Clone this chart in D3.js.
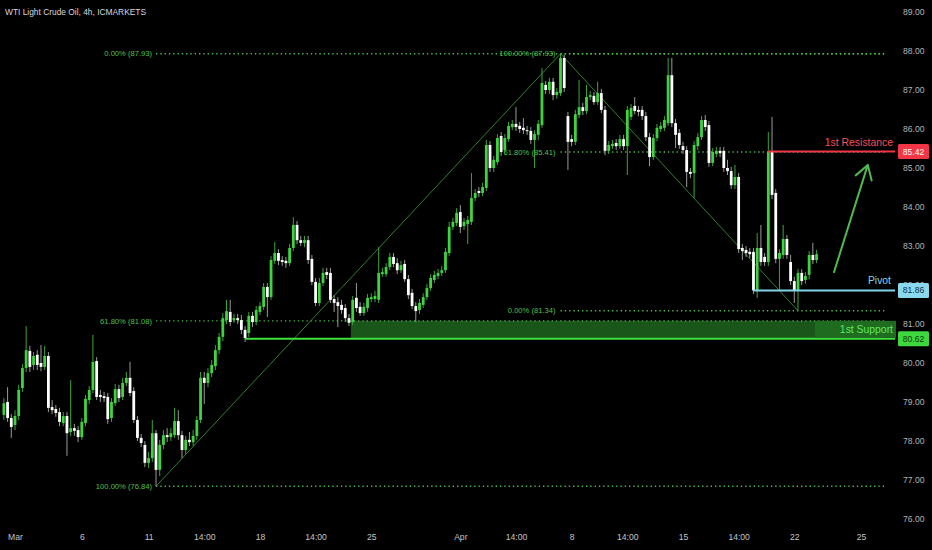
<!DOCTYPE html>
<html><head><meta charset="utf-8">
<script src="https://cdn.jsdelivr.net/npm/d3@7"></script>
<style>
html,body{margin:0;padding:0;background:#000;overflow:hidden;}
svg{display:block;}
</style></head>
<body>
<svg id="chart" width="932" height="550"></svg>
<script>
const title = "WTI Light Crude Oil, 4h, ICMARKETS";

const opens = [
78.67,79.00,78.59,78.41,78.64,79.36,79.87,80.31,79.95,80.21,
80.00,79.90,80.18,78.87,78.82,78.74,78.46,78.64,78.23,78.33,
78.28,78.10,78.46,79.05,79.31,80.05,79.18,79.15,79.13,78.59,
78.97,79.33,79.13,79.49,79.62,79.28,78.54,78.08,77.90,77.44,
77.56,78.20,77.26,77.90,78.15,78.10,78.15,78.51,78.15,77.77,
78.03,77.97,78.13,78.54,79.62,79.49,79.74,79.92,80.33,80.67,
81.10,81.31,81.10,81.15,81.10,80.85,80.77,81.21,81.05,81.31,
81.44,81.95,81.69,82.62,82.82,82.64,82.62,82.56,82.95,83.54,
83.15,83.08,83.15,82.67,82.08,81.54,82.05,82.33,82.31,81.64,
81.56,81.49,81.41,81.15,81.05,81.67,81.44,81.28,81.41,81.64,
81.64,81.62,82.28,82.28,82.46,82.72,82.56,82.38,82.54,82.15,
81.80,81.46,81.36,81.49,81.69,81.92,82.13,82.23,82.31,82.38,
82.82,83.49,83.59,83.87,83.51,83.56,83.62,84.23,84.41,84.36,
84.49,85.59,85.00,85.15,85.82,85.46,85.74,86.05,86.13,86.08,
86.03,85.97,85.95,85.72,85.85,86.10,87.13,87.00,87.21,86.87,
86.92,87.82,86.33,85.74,85.67,86.36,86.56,86.46,86.82,86.85,
86.69,86.92,86.49,85.44,85.56,85.64,85.56,85.74,85.56,86.31,
86.59,86.49,86.49,86.33,85.79,85.28,85.77,86.00,86.03,86.15,
87.38,86.15,85.90,85.56,85.46,84.90,84.87,85.56,85.79,86.23,
86.10,85.13,85.36,85.44,85.44,85.00,84.92,84.56,84.77,82.95,
82.90,82.85,82.85,81.86,82.95,82.72,82.59,85.41,84.36,82.67,
82.77,83.18,82.59,82.10,81.87,82.31,82.13,82.26,82.77,82.64];

const highs = [
79.10,79.38,78.69,78.79,79.44,79.97,80.95,80.44,80.28,80.33,
80.46,80.44,80.28,79.05,78.92,78.85,78.74,78.74,79.56,78.44,
78.38,78.59,79.18,79.41,80.72,80.15,79.31,79.26,79.23,79.10,
79.46,79.44,79.62,79.77,80.03,79.38,78.64,78.18,78.00,77.72,
78.54,78.28,78.03,78.28,78.33,78.33,78.85,78.79,78.26,78.13,
78.23,78.28,78.64,79.77,79.77,79.87,80.08,80.46,80.77,81.28,
81.62,81.62,81.26,81.26,81.23,80.95,81.31,81.31,81.46,81.56,
82.05,82.05,82.74,83.10,82.92,82.74,82.72,83.05,83.74,83.64,
83.26,83.26,83.26,82.77,82.18,82.18,82.44,82.44,82.44,81.74,
81.69,81.62,81.51,81.26,81.72,82.05,81.56,81.54,81.77,81.79,
81.85,82.97,82.44,82.56,82.82,82.82,82.69,82.62,82.64,82.26,
81.90,81.56,81.64,81.79,82.03,82.28,82.36,82.41,82.49,82.95,
83.62,83.72,83.97,84.05,83.72,83.77,84.87,84.46,84.51,84.62,
85.72,85.69,85.31,85.87,85.92,85.87,86.18,86.23,86.56,86.18,
86.28,86.08,86.05,85.97,86.23,87.56,87.23,87.31,87.31,87.05,
87.93,87.90,86.44,85.85,86.49,87.26,86.67,87.13,86.97,86.95,
87.21,87.03,86.59,85.69,85.72,85.74,85.85,85.85,86.59,86.64,
86.82,86.59,86.59,86.44,85.90,85.87,86.13,86.18,86.33,87.82,
87.82,86.26,86.00,85.67,85.56,85.00,85.69,85.90,86.33,86.36,
86.21,85.51,85.54,85.54,85.54,85.21,85.03,85.08,84.87,83.05,
83.00,82.95,82.95,83.33,83.54,82.82,85.92,86.31,84.46,82.92,
83.54,83.28,82.77,82.21,82.41,82.41,82.33,82.87,83.08,82.90];

const lows = [
78.54,78.49,78.08,78.28,78.54,79.26,79.77,79.77,79.82,79.82,
79.79,79.82,78.74,78.69,78.62,78.38,78.38,77.62,78.13,78.13,
77.97,78.03,78.38,78.95,79.23,79.05,79.00,79.00,78.44,78.49,
78.90,79.00,79.05,79.41,79.15,78.46,78.00,77.85,77.33,77.31,
77.46,76.84,77.10,77.79,77.97,78.00,78.08,78.03,77.56,77.67,
77.87,77.87,78.03,78.46,78.95,79.38,79.64,79.82,80.23,80.56,
81.00,80.95,81.03,81.00,80.74,80.54,80.67,80.92,80.97,81.23,
81.36,81.18,81.62,82.54,82.51,82.49,82.44,82.49,82.87,83.05,
83.00,82.97,82.54,82.00,81.46,81.46,81.97,82.15,81.54,81.31,
80.92,81.26,81.05,80.95,80.97,81.31,81.21,81.21,81.31,81.56,
81.56,81.54,82.21,82.21,82.38,82.46,82.28,82.31,82.08,81.64,
81.38,81.05,81.26,81.41,81.62,81.85,82.05,82.15,82.23,82.31,
82.74,83.41,83.51,83.33,83.41,83.05,83.54,84.15,84.26,84.28,
84.41,84.90,84.90,85.08,85.31,85.36,85.67,85.97,85.95,85.90,
85.87,85.85,85.62,85.00,85.72,86.03,86.90,86.90,86.74,86.77,
86.85,86.95,84.95,85.56,85.59,86.28,86.36,86.38,86.74,86.62,
86.62,86.41,85.33,85.36,85.49,85.46,85.49,85.46,84.82,86.23,
86.38,86.33,86.23,85.69,85.05,85.21,85.69,85.92,85.95,86.08,
86.05,85.51,85.49,85.36,84.51,84.74,84.23,85.46,85.72,85.95,
85.03,85.05,85.28,85.28,84.90,84.82,84.46,84.46,82.82,82.64,
82.72,82.69,81.77,81.67,82.49,82.49,82.49,84.20,82.56,81.87,
82.67,82.67,82.00,81.54,81.34,82.00,82.03,82.15,82.54,82.56];

const closes = [
78.97,78.59,78.36,78.64,79.31,79.87,80.33,79.90,80.18,79.95,
79.90,80.18,78.85,78.79,78.72,78.49,78.64,78.20,78.33,78.26,
78.10,78.49,79.08,79.31,80.03,79.13,79.13,79.10,78.56,79.00,
79.33,79.10,79.49,79.62,79.23,78.54,78.08,77.95,77.44,77.56,
78.20,77.26,77.90,78.15,78.10,78.20,78.51,78.15,77.77,78.03,
77.97,78.13,78.54,79.62,79.49,79.74,79.95,80.33,80.67,81.15,
81.33,81.05,81.15,81.10,80.85,80.64,81.21,81.05,81.36,81.46,
81.95,81.69,82.64,82.82,82.62,82.59,82.56,82.95,83.54,83.15,
83.08,83.15,82.64,82.08,81.54,82.05,82.31,82.26,81.62,81.54,
81.46,81.36,81.15,81.03,81.62,81.41,81.28,81.44,81.67,81.69,
81.72,82.31,82.33,82.46,82.72,82.54,82.38,82.51,82.15,81.74,
81.46,81.33,81.54,81.69,81.92,82.18,82.26,82.31,82.38,82.85,
83.49,83.62,83.85,83.49,83.62,83.67,84.23,84.36,84.36,84.51,
85.59,85.00,85.21,85.77,85.41,85.77,86.08,86.13,86.05,86.00,
85.97,85.95,85.72,85.87,86.13,87.18,87.00,87.21,86.87,86.95,
87.82,87.05,85.67,85.67,86.38,86.56,86.46,86.82,86.87,86.69,
86.92,86.49,85.44,85.59,85.62,85.56,85.74,85.56,86.49,86.54,
86.46,86.44,86.33,85.79,85.28,85.77,86.03,86.08,86.23,87.38,
86.15,85.85,85.59,85.46,84.90,84.85,85.59,85.79,86.23,86.05,
85.13,85.41,85.44,85.38,85.00,84.92,84.56,84.77,82.92,82.87,
82.82,82.79,81.86,82.95,82.59,82.59,85.41,84.31,82.67,82.82,
83.18,82.77,82.10,81.87,82.31,82.10,82.23,82.77,82.64,82.79];

// x-axis: bar index of each date label
const xTickIndex  = [3, 21, 39, 54, 69, 84, 99, 123, 138, 153, 168, 183, 198, 213, 231];
const xTickLabels = ["Mar","6","11","14:00","18","14:00","25","Apr","14:00","8","14:00","15","14:00","22","25"];
const yTicks = [76,77,78,79,80,81,82,83,84,85,86,87,88,89];

// Fibonacci retracement 1 (low -> high)
const fib1Anchor = [41, 150];
const fib1Pcts   = ["0.00%", "61.80%", "100.00%"];
const fib1Values = [87.93, 81.08, 76.84];
// Fibonacci retracement 2 (high -> low)
const fib2Anchor = [150, 214];
const fib2Pcts   = ["100.00%", "61.80%", "0.00%"];
const fib2Values = [87.93, 85.41, 81.34];

// Levels
const levelNames  = ["1st Resistance", "Pivot", "1st Support"];
const levelValues = [85.42, 81.86, 80.62];
const levelStart  = [206, 202, 65];
const supportZone = [80.62, 81.08];
const supportZoneStart = 93.5;
// projected arrow (bar index, price)
const arrowFrom = [223.7, 82.33];
const arrowTo   = [232.8, 85.08];

const W = 932, H = 550;
const plotRight = 885;
const svg = d3.select("#chart");
svg.append("rect").attr("width", W).attr("height", H).attr("fill", "#000");

const x = d3.scaleLinear().domain([0, 231]).range([3.87, 861.1]);
const y = d3.scaleLinear().domain([76, 89]).range([519, 12]);

const FONT = "'Liberation Sans',Arial,sans-serif";

// title
svg.append("text").attr("x", 5).attr("y", 15)
  .attr("fill", "#d6d8de").attr("font-family", FONT).attr("font-size", 8.4)
  .text(title);

// support zone
svg.append("rect")
  .attr("x", x(supportZoneStart)).attr("width", plotRight - x(supportZoneStart))
  .attr("y", y(supportZone[1])).attr("height", y(supportZone[0]) - y(supportZone[1]))
  .attr("fill", "#1a561a");

// fib lines
const fibColor = "#4cc04c";
function drawFib(anchor, pcts, values, labelRight) {
  const g = svg.append("g");
  values.forEach((v, i) => {
    g.append("line")
      .attr("x1", x(anchor[0])).attr("x2", plotRight)
      .attr("y1", y(v)).attr("y2", y(v))
      .attr("stroke", fibColor).attr("stroke-width", 1.3)
      .attr("stroke-dasharray", "1.3,3");
    g.append("text")
      .attr("x", labelRight).attr("y", y(v)).attr("dy", "0.35em")
      .attr("text-anchor", "end").attr("fill", fibColor)
      .attr("font-family", FONT).attr("font-size", 7.6)
      .text(`${pcts[i]} (${v.toFixed(2)})`);
  });
}
drawFib(fib1Anchor, fib1Pcts, fib1Values, x(fib1Anchor[0]) - 4);
drawFib(fib2Anchor, fib2Pcts, fib2Values, x(fib2Anchor[0]) - 5);

// fib diagonals
svg.append("line")
  .attr("x1", x(fib1Anchor[0])).attr("y1", y(fib1Values[2]))
  .attr("x2", x(fib1Anchor[1])).attr("y2", y(fib1Values[0]))
  .attr("stroke", "#2f7f2f").attr("stroke-width", 1);
svg.append("line")
  .attr("x1", x(fib2Anchor[0])).attr("y1", y(fib2Values[0]))
  .attr("x2", x(fib2Anchor[1])).attr("y2", y(fib2Values[2]))
  .attr("stroke", "#2f7f2f").attr("stroke-width", 1);

// candles
const bars = opens.map((o, i) => ({i, o, h: highs[i], l: lows[i], c: closes[i]}));
const cg = svg.append("g");
const bodyW = 2.8;
cg.selectAll("line.wick").data(bars).join("line")
  .attr("class", "wick")
  .attr("x1", d => x(d.i)).attr("x2", d => x(d.i))
  .attr("y1", d => y(d.h)).attr("y2", d => y(d.l))
  .attr("stroke", d => d.c >= d.o ? "#3aa53a" : "#9a9a9a")
  .attr("stroke-width", 1);
cg.selectAll("rect.body").data(bars).join("rect")
  .attr("class", "body")
  .attr("x", d => x(d.i) - bodyW / 2).attr("width", bodyW)
  .attr("y", d => y(Math.max(d.o, d.c)))
  .attr("height", d => Math.max(1, Math.abs(y(d.o) - y(d.c))))
  .attr("fill", d => d.c >= d.o ? "#3ed43e" : "#ffffff");

// level lines
const levelColors = ["#f23645", "#82d4ea", "#3ee03e"];
levelValues.forEach((v, i) => {
  svg.append("line")
    .attr("x1", x(levelStart[i])).attr("x2", plotRight + 10)
    .attr("y1", y(v)).attr("y2", y(v))
    .attr("stroke", levelColors[i]).attr("stroke-width", 2);
});
// level text labels
svg.append("text").attr("x", 893).attr("y", y(levelValues[0]) - 6)
  .attr("text-anchor", "end").attr("fill", "#f4505c")
  .attr("font-family", FONT).attr("font-size", 10.4).text(levelNames[0]);
svg.append("text").attr("x", 891).attr("y", y(levelValues[1]) - 6)
  .attr("text-anchor", "end").attr("fill", levelColors[1])
  .attr("font-family", FONT).attr("font-size", 10.4).text(levelNames[1]);
svg.append("rect").attr("x", 815).attr("y", y(levelValues[2]) - 18)
  .attr("width", 81).attr("height", 17).attr("fill", "#1f6b1f");
svg.append("text").attr("x", 893).attr("y", y(levelValues[2]) - 6)
  .attr("text-anchor", "end").attr("fill", "#5fe85f")
  .attr("font-family", FONT).attr("font-size", 10.4).text(levelNames[2]);

// arrow
const ax1 = x(arrowFrom[0]), ay1 = y(arrowFrom[1]);
const ax2 = x(arrowTo[0]), ay2 = y(arrowTo[1]);
const ang = Math.atan2(ay2 - ay1, ax2 - ax1);
const barb = 16, spread = 0.55;
const arrowPath = d3.path();
arrowPath.moveTo(ax1, ay1); arrowPath.lineTo(ax2, ay2);
arrowPath.moveTo(ax2 - barb * Math.cos(ang - spread), ay2 - barb * Math.sin(ang - spread));
arrowPath.lineTo(ax2, ay2);
arrowPath.lineTo(ax2 - barb * Math.cos(ang + spread), ay2 - barb * Math.sin(ang + spread));
svg.append("path").attr("d", arrowPath.toString())
  .attr("fill", "none").attr("stroke", "#4fb84f").attr("stroke-width", 2)
  .attr("stroke-linecap", "round").attr("stroke-linejoin", "round");

// axes
const yAxis = d3.axisRight(y).tickValues(yTicks).tickFormat(d3.format(".2f")).tickSize(0).tickPadding(4);
const yg = svg.append("g").attr("transform", "translate(899,0)").call(yAxis);
yg.select(".domain").remove();
yg.selectAll("text").attr("fill", "#b4b4b4").attr("font-family", FONT).attr("font-size", 8.6);

const xAxis = d3.axisBottom(x).tickValues(xTickIndex).tickFormat((d, i) => xTickLabels[i]).tickSize(0).tickPadding(4);
const xg = svg.append("g").attr("transform", "translate(0,530)").call(xAxis);
xg.select(".domain").remove();
xg.selectAll("text").attr("fill", "#c4c4c4").attr("font-family", FONT).attr("font-size", 8.6);

// price boxes on the axis
const boxFill = ["#f23645", "#8ad8ee", "#3ed83e"];
const boxText = ["#ffffff", "#10323e", "#0d3a0d"];
levelValues.forEach((v, i) => {
  svg.append("rect").attr("x", 898).attr("y", y(v) - 7.5).attr("width", 31).attr("height", 15)
    .attr("rx", 1.5).attr("fill", boxFill[i]);
  svg.append("text").attr("x", 913.5).attr("y", y(v)).attr("dy", "0.35em")
    .attr("text-anchor", "middle").attr("fill", boxText[i])
    .attr("font-family", FONT).attr("font-size", 8.6).text(v.toFixed(2));
});
</script>
</body></html>
